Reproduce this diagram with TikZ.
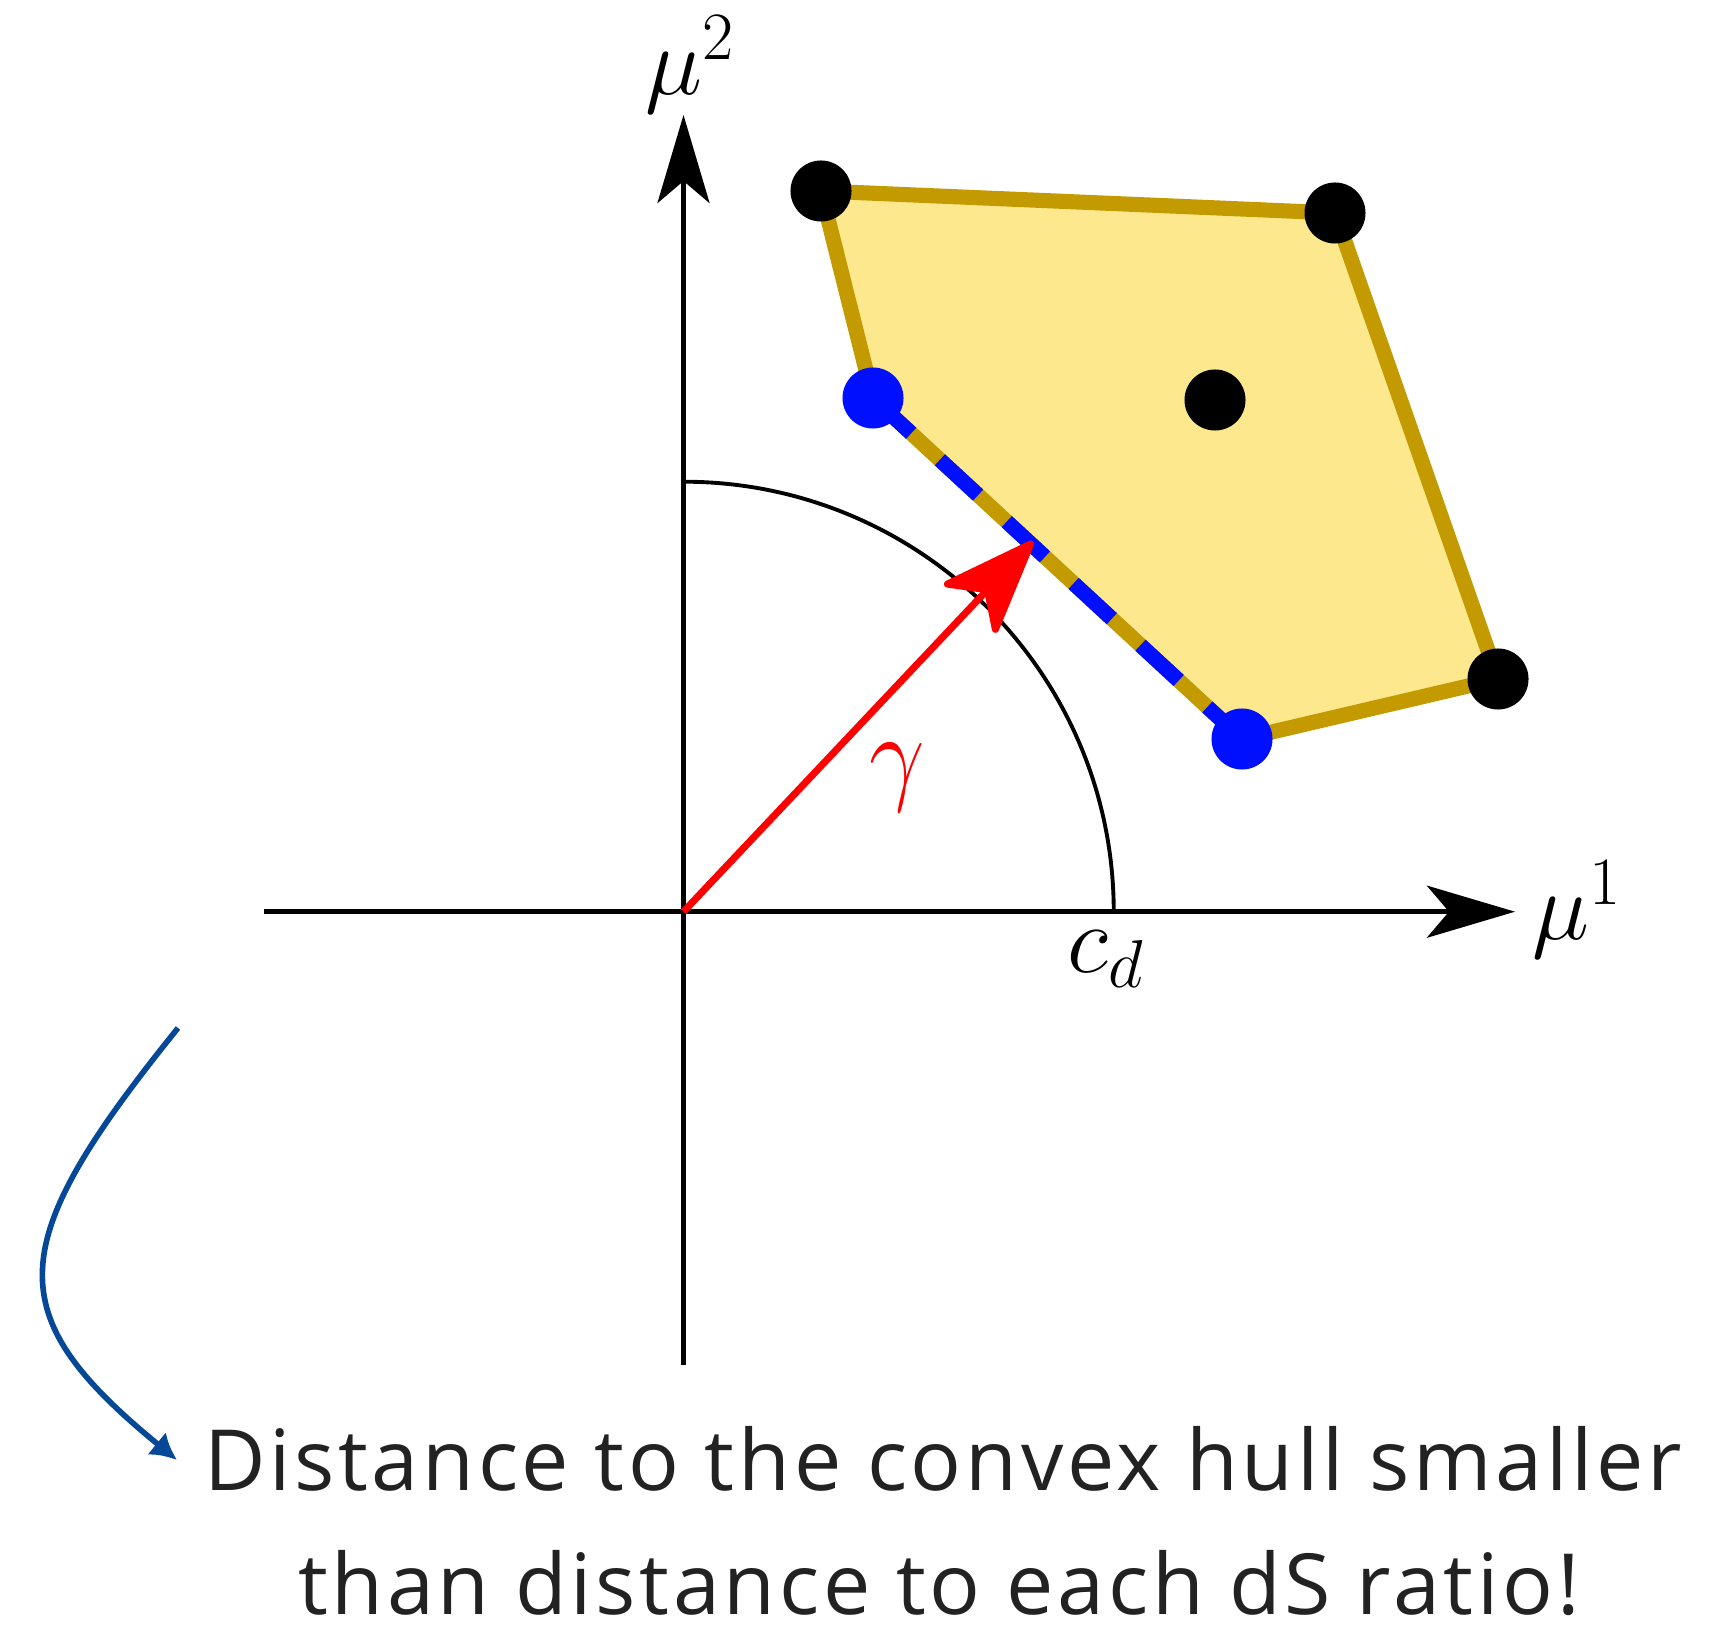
\documentclass[tikz,border=0pt]{standalone}
\usepackage{fix-cm}
\usepackage{fontspec}
\newfontfamily\capfont[LetterSpace=4.4]{Open Sans}
\usetikzlibrary{arrows.meta}
\definecolor{hullfill}{RGB}{254,232,142}
\definecolor{hulledge}{RGB}{195,155,0}
\definecolor{dotblue}{RGB}{0,16,255}
\definecolor{notearrow}{RGB}{6,72,152}
\definecolor{captext}{RGB}{34,34,34}
\begin{document}
\begin{tikzpicture}[x=0.01cm,y=-0.01cm,
  axis/.style={line width=1.4pt, -{Stealth[length=0.88cm,width=0.52cm,inset=0.22cm]}},
  vdot/.style={circle, fill=black, inner sep=0pt, minimum size=0.61cm},
  bdot/.style={vdot, fill=dotblue},
  mlabel/.style={font=\fontsize{27.5}{32}\selectfont},
  capline/.style={font=\capfont\fontsize{24}{30}\selectfont, text=captext, anchor=base, inner sep=0pt}
]
\useasboundingbox (0,0) rectangle (1712,1625);
\coordinate (O) at (683.5,911.7);
\coordinate (xs) at (264,911.7);
\coordinate (xe) at (1515,911.7);
\coordinate (ys) at (683.5,1365);
\coordinate (ye) at (683.5,115);
\coordinate (arctop) at (683.5,481.7);
\coordinate (A) at (821,191);
\coordinate (B) at (1335,213);
\coordinate (C) at (1498,679);
\coordinate (D) at (1242,739);
\coordinate (E) at (873,398);
\coordinate (F) at (1215,400);
\coordinate (G) at (1033,541.5);
\coordinate (cs) at (178,1028);
\coordinate (ce) at (177,1460);

\filldraw[fill=hullfill, draw=hulledge, line width=4.3pt, line join=round] (A) -- (B) -- (C) -- (D) -- (E) -- cycle;
\draw[dotblue, line width=4.3pt, dash pattern=on 0.52cm off 0.39cm] (E) -- (D);

\draw[axis] (xs) -- (xe);
\draw[axis] (ys) -- (ye);
\draw[line width=1.1pt] (arctop) arc[start angle=90,end angle=0,radius=4.3cm];

\draw[red, line width=2pt, -{Stealth[length=1.05cm,width=0.8cm,inset=0.28cm,round]}] (O) -- (G);

\node[vdot] (dA) at (A) {};
\node[vdot] (dB) at (B) {};
\node[vdot] (dC) at (C) {};
\node[vdot] (dF) at (F) {};
\node[bdot] (dD) at (D) {};
\node[bdot] (dE) at (E) {};

\node[mlabel] (mu2) at (690,65) {$\mu^2$};
\node[mlabel] (mu1) at (1577,910) {$\mu^1$};
\node[mlabel] (cd) at (1106,959) {$c_d$};
\node[font=\fontsize{27}{32}\selectfont, text=red] (gam) at (897,778) {\scalebox{1.04}[1.15]{$\gamma$}};

\draw[notearrow, line width=1.6pt, -{Latex[length=0.26cm,width=0.29cm]}] (cs) .. controls (2,1246) and (-1,1314) .. (ce);

\node[capline] (capA) at (943,1490) {Distance to the convex hull smaller};
\node[capline] (capB) at (939,1614) {than distance to each dS ratio!};
\end{tikzpicture}
\end{document}
